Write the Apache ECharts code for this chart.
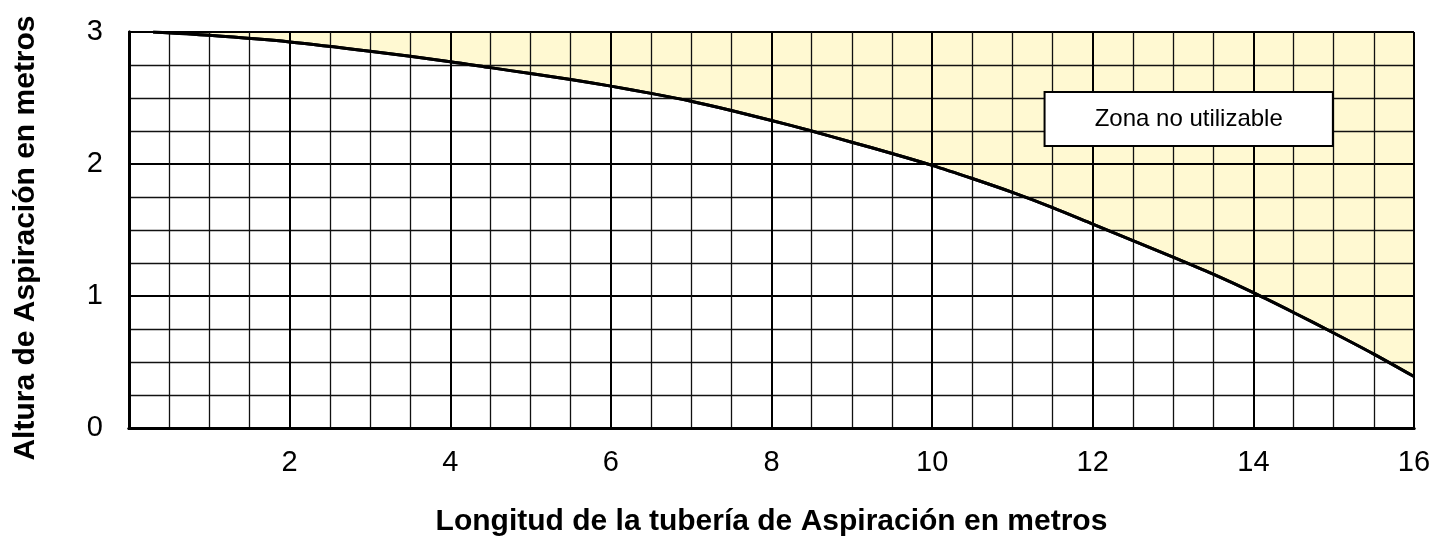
<!DOCTYPE html>
<html>
<head>
<meta charset="utf-8">
<script src="https://cdn.jsdelivr.net/npm/echarts@6/dist/echarts.min.js"></script>
<style>html,body{margin:0;padding:0;background:#fff}#c{width:1449px;height:544px}</style>
</head>
<body>
<div id="c"></div>
<script>
// Data
var lengthX = [0.3, 1, 2, 3, 4, 4.5, 5, 5.5, 6, 6.5, 7, 7.5, 8, 8.5, 9, 9.5, 10, 10.5, 11, 11.5, 12, 12.5, 13, 13.5, 14, 14.5, 15, 15.5, 16];
var heightY = [3.0, 2.975, 2.925, 2.855, 2.775, 2.73, 2.685, 2.64, 2.59, 2.535, 2.475, 2.405, 2.33, 2.25, 2.165, 2.08, 1.99, 1.89, 1.785, 1.67, 1.545, 1.42, 1.295, 1.165, 1.025, 0.875, 0.72, 0.56, 0.39];
var xTickLabels = ['', '2', '4', '6', '8', '10', '12', '14', '16'];
var yTickLabels = ['0', '1', '2', '3'];
var xTitle = 'Longitud de la tubería de Aspiración en metros';
var yTitle = 'Altura de Aspiración en metros';
var zoneLabel = 'Zona no utilizable';
var zoneBox = [[11.4, 2.545], [14.99, 2.136]];

var points = lengthX.map(function (x, i) { return [x, heightY[i]]; });
var chart = echarts.init(document.getElementById('c'), null, {renderer: 'canvas'});
var font = 'Liberation Sans, Arial, sans-serif';

var option = {
  animation: false,
  grid: {left: 129, right: 35, top: 32, bottom: 116, show: false},
  xAxis: [{
    type: 'value', min: 0, max: 16, interval: 2, z: 5,
    name: xTitle, nameLocation: 'middle', nameGap: 79,
    nameTextStyle: {fontFamily: font, fontWeight: 'bold', fontSize: 30, color: '#000'},
    axisLine: {show: true, onZero: false, lineStyle: {color: '#000', width: 3}},
    axisTick: {show: false},
    axisLabel: {fontFamily: font, fontSize: 29, color: '#000', margin: 20,
      formatter: function (v) { return xTickLabels[Math.round(v / 2)]; }},
    splitLine: {show: true, lineStyle: {color: '#000', width: 2}},
    minorTick: {show: false, splitNumber: 4},
    minorSplitLine: {show: true, lineStyle: {color: '#111', width: 1.3}}
  }, {
    type: 'value', min: 0, max: 16, position: 'top', z: 6,
    axisLine: {show: true, lineStyle: {color: '#000', width: 3}},
    axisTick: {show: false}, axisLabel: {show: false}, splitLine: {show: false}
  }],
  yAxis: [{
    type: 'value', min: 0, max: 3, interval: 1, z: 5,
    name: yTitle, nameLocation: 'middle', nameGap: 88,
    nameTextStyle: {fontFamily: font, fontWeight: 'bold', fontSize: 30, color: '#000', padding: [0, 16, 0, 0]},
    axisLine: {show: true, onZero: false, lineStyle: {color: '#000', width: 3}},
    axisTick: {show: false},
    axisLabel: {fontFamily: font, fontSize: 29, color: '#000', margin: 26,
      formatter: function (v) { return yTickLabels[Math.round(v)]; }},
    splitLine: {show: true, lineStyle: {color: '#000', width: 2}},
    minorTick: {show: false, splitNumber: 4},
    minorSplitLine: {show: true, lineStyle: {color: '#111', width: 1.3}}
  }, {
    type: 'value', min: 0, max: 3, position: 'right', z: 6,
    axisLine: {show: true, lineStyle: {color: '#000', width: 3}},
    axisTick: {show: false}, axisLabel: {show: false}, splitLine: {show: false}
  }],
  series: [{
    type: 'line', data: points, smooth: 0.3, symbol: 'none', z: 2,
    lineStyle: {color: '#000', width: 3},
    areaStyle: {origin: 'end', color: '#FFF9D2', opacity: 1}
  }, {
    type: 'line', data: points, smooth: 0.3, symbol: 'none', z: 8,
    lineStyle: {color: '#000', width: 3}
  }]
};
chart.setOption(option);

var p1 = chart.convertToPixel({xAxisIndex: 0, yAxisIndex: 0}, zoneBox[0]);
var p2 = chart.convertToPixel({xAxisIndex: 0, yAxisIndex: 0}, zoneBox[1]);
chart.setOption({
  graphic: [{
    type: 'group', z: 100,
    children: [{
      type: 'rect', z: 100,
      shape: {x: p1[0], y: p1[1], width: p2[0] - p1[0], height: p2[1] - p1[1]},
      style: {fill: '#fff', stroke: '#000', lineWidth: 2}
    }, {
      type: 'text', z: 101,
      x: (p1[0] + p2[0]) / 2, y: (p1[1] + p2[1]) / 2,
      style: {text: zoneLabel, fontFamily: font, fontSize: 24, fill: '#000', align: 'center', verticalAlign: 'middle'}
    }]
  }]
});
</script>
</body>
</html>
